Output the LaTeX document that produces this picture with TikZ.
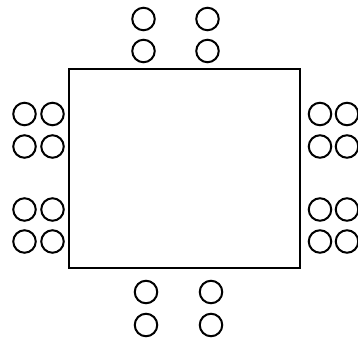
\documentclass[tikz,border=0pt]{standalone}
\begin{document}
\begin{tikzpicture}[x=1pt,y=-1pt,
    seat/.style={circle,draw,line width=2pt,minimum size=22.5pt,inner sep=0pt}]

% Picture area, in pixels of the layout
\useasboundingbox (0,0) rectangle (358,340);

% Table corners
\def\tableleft{69}
\def\tabletop{69}
\def\tableright{300}
\def\tablebottom{268}

% Table
\draw[line width=2pt]
    (\tableleft,\tabletop) rectangle (\tableright,\tablebottom);

% Seats above the table
\foreach \x [count=\i] in {143.5,207.5}
  \foreach \y [count=\j] in {19,51}
    \node[seat] (top\i\j) at (\x,\y) {};

% Seats below the table
\foreach \x [count=\i] in {146,211}
  \foreach \y [count=\j] in {292,325}
    \node[seat] (bottom\i\j) at (\x,\y) {};

% Seats on the left side
\foreach \x [count=\i] in {24.5,52.5}
  \foreach \y [count=\j] in {114,146.5,209.5,241.5}
    \node[seat] (left\i\j) at (\x,\y) {};

% Seats on the right side
\foreach \x [count=\i] in {320,347}
  \foreach \y [count=\j] in {114,146.5,209.5,241.5}
    \node[seat] (right\i\j) at (\x,\y) {};

\end{tikzpicture}
\end{document}
